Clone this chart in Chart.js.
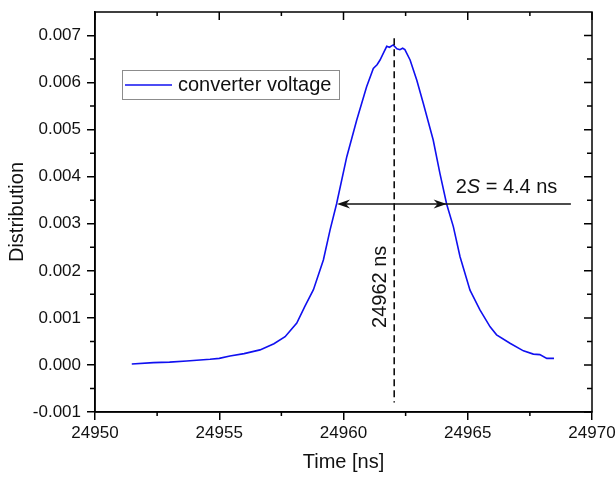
<!DOCTYPE html>
<html>
<head>
<meta charset="utf-8">
<script src="https://cdn.jsdelivr.net/npm/chart.js@4.4.1/dist/chart.umd.min.js"></script>
<style>
  html, body { margin: 0; padding: 0; background: #fff; }
  #wrap { width: 616px; height: 477px; }
</style>
</head>
<body>
<div id="wrap"><canvas id="c" width="616" height="477"></canvas></div>
<script>
// ---- data ----
const timeNs = [
  24951.48, 24952.35, 24953.0, 24953.69, 24954.63, 24955.0, 24955.43, 24956.0,
  24956.64, 24957.2, 24957.65, 24958.12, 24958.45, 24958.79, 24959.19, 24959.46,
  24959.72, 24960.13, 24960.53, 24960.93, 24961.2, 24961.35, 24961.47, 24961.6,
  24961.74, 24961.85, 24962.0, 24962.15, 24962.27, 24962.38, 24962.47, 24962.68,
  24962.95, 24963.21, 24963.61, 24963.88, 24964.15, 24964.42, 24964.69, 24965.09,
  24965.49, 24965.9, 24966.16, 24966.7, 24967.24, 24967.64, 24967.9, 24968.18, 24968.47
];
const distribution = [
  0.00002, 0.00005, 0.00006, 0.000085, 0.00012, 0.00014, 0.00019, 0.00024,
  0.00032, 0.00045, 0.0006, 0.00089, 0.00125, 0.0016, 0.00223, 0.00287,
  0.00342, 0.00442, 0.0052, 0.00591, 0.0063, 0.00638, 0.00648, 0.00662,
  0.00677, 0.00675, 0.0068, 0.00672, 0.0067, 0.00673, 0.0067, 0.00648,
  0.00605, 0.00556, 0.00478, 0.00407, 0.00342, 0.00294, 0.0023, 0.00159,
  0.00117, 0.00081, 0.00064, 0.00046, 0.0003, 0.00023, 0.00022, 0.00014, 0.00014
];
const seriesLabel = 'converter voltage';
const xTickValues = [24950, 24955, 24960, 24965, 24970];
const xTickLabels = ['24950', '24955', '24960', '24965', '24970'];
const xMinorValues = [24952.5, 24957.5, 24962.5, 24967.5];
const yTickValues = [-0.001, 0, 0.001, 0.002, 0.003, 0.004, 0.005, 0.006, 0.007];
const yTickLabels = ['-0.001', '0.000', '0.001', '0.002', '0.003', '0.004', '0.005', '0.006', '0.007'];
const yMinorValues = [-0.0005, 0.0005, 0.0015, 0.0025, 0.0035, 0.0045, 0.0055, 0.0065];
const xRange = [24950, 24970];
const yRange = [-0.001, 0.0075];
// annotations
const peakTime = [24962.04];          // dashed line position
const peakLineY = [-0.0008, 0.00694]; // dashed line extent
const peakLabel = ['24962 ns'];
const peakLabelY = [0.00166];
const fwhmY = [0.00342];
const fwhmX = [24959.74, 24964.15, 24969.15]; // left, right, line end
const fwhmLabel = ['2', 'S', ' = 4.4 ns'];

const FONT = '"Liberation Sans", Arial, sans-serif';

const annotPlugin = {
  id: 'annot',
  afterDraw(chart) {
    const ctx = chart.ctx;
    const xs = chart.scales.x, ys = chart.scales.y;
    const a = chart.chartArea;
    ctx.save();
    // frame
    ctx.strokeStyle = '#000';
    ctx.lineWidth = 1.5;
    ctx.strokeRect(a.left, a.top, a.right - a.left, a.bottom - a.top);
    // top/right inward major ticks
    ctx.beginPath();
    xTickValues.forEach(v => {
      const px = xs.getPixelForValue(v);
      ctx.moveTo(px, a.top); ctx.lineTo(px, a.top + 8);
    });
    yTickValues.forEach(v => {
      const py = ys.getPixelForValue(v);
      ctx.moveTo(a.right, py); ctx.lineTo(a.right - 8, py);
    });
    // minor ticks
    xMinorValues.forEach(v => {
      const px = xs.getPixelForValue(v);
      ctx.moveTo(px, a.bottom); ctx.lineTo(px, a.bottom + 4);
      ctx.moveTo(px, a.top); ctx.lineTo(px, a.top + 4);
    });
    yMinorValues.forEach(v => {
      const py = ys.getPixelForValue(v);
      ctx.moveTo(a.left, py); ctx.lineTo(a.left - 5, py);
      ctx.moveTo(a.right, py); ctx.lineTo(a.right - 5, py);
    });
    ctx.stroke();

    // legend
    const lx = a.left + 27, ly = a.top + 58, lw = 217, lh = 29;
    ctx.lineWidth = 1;
    ctx.strokeStyle = '#8c8c8c';
    ctx.strokeRect(lx + 0.5, ly + 0.5, lw, lh);
    const ds = chart.data.datasets[0];
    ctx.strokeStyle = ds.borderColor;
    ctx.lineWidth = 1.5;
    ctx.beginPath();
    ctx.moveTo(lx + 3, ly + lh / 2 + 0.5); ctx.lineTo(lx + 50, ly + lh / 2 + 0.5);
    ctx.stroke();
    ctx.fillStyle = '#111';
    ctx.font = '20px ' + FONT;
    ctx.textBaseline = 'middle';
    ctx.textAlign = 'left';
    ctx.fillText(ds.label, lx + 56, ly + lh / 2 + 1);

    // dashed peak line
    const pkx = xs.getPixelForValue(peakTime[0]);
    ctx.strokeStyle = '#000';
    ctx.lineWidth = 1.5;
    ctx.setLineDash([7, 4]);
    ctx.beginPath();
    ctx.moveTo(pkx, ys.getPixelForValue(peakLineY[1]));
    ctx.lineTo(pkx, ys.getPixelForValue(peakLineY[0]));
    ctx.stroke();
    ctx.setLineDash([]);
    // peak label rotated
    ctx.save();
    ctx.translate(pkx - 14, ys.getPixelForValue(peakLabelY[0]));
    ctx.rotate(-Math.PI / 2);
    ctx.textAlign = 'center';
    ctx.textBaseline = 'middle';
    ctx.fillStyle = '#111';
    ctx.font = '20px ' + FONT;
    ctx.fillText(peakLabel[0], 0, 0);
    ctx.restore();

    // FWHM arrow
    const fy = ys.getPixelForValue(fwhmY[0]);
    const fl = xs.getPixelForValue(fwhmX[0]);
    const fr = xs.getPixelForValue(fwhmX[1]);
    const fe = xs.getPixelForValue(fwhmX[2]);
    ctx.strokeStyle = '#111';
    ctx.lineWidth = 1.6;
    ctx.beginPath();
    ctx.moveTo(fl + 4, fy); ctx.lineTo(fe, fy);
    ctx.stroke();
    function head(tipX, dir) {
      ctx.fillStyle = '#111';
      ctx.beginPath();
      ctx.moveTo(tipX, fy);
      ctx.lineTo(tipX - dir * 13, fy - 4.5);
      ctx.lineTo(tipX - dir * 9, fy);
      ctx.lineTo(tipX - dir * 13, fy + 4.5);
      ctx.closePath();
      ctx.fill();
    }
    head(fl, -1);
    head(fr, 1);
    // FWHM label
    ctx.fillStyle = '#111';
    ctx.textAlign = 'left';
    ctx.textBaseline = 'alphabetic';
    let tx = fr + 9;
    const by = fy - 11;
    ctx.font = '20px ' + FONT;
    ctx.fillText(fwhmLabel[0], tx, by);
    tx += ctx.measureText(fwhmLabel[0]).width;
    ctx.font = 'italic 20px ' + FONT;
    ctx.fillText(fwhmLabel[1], tx, by);
    tx += ctx.measureText(fwhmLabel[1]).width;
    ctx.font = '20px ' + FONT;
    ctx.fillText(fwhmLabel[2], tx, by);
    ctx.restore();
  }
};

new Chart(document.getElementById('c'), {
  type: 'scatter',
  data: {
    datasets: [{
      label: seriesLabel,
      data: timeNs.map((t, i) => ({ x: t, y: distribution[i] })),
      showLine: true,
      borderColor: '#1010f0',
      borderWidth: 1.6,
      pointRadius: 0,
      tension: 0,
      fill: false
    }]
  },
  options: {
    responsive: false,
    animation: false,
    devicePixelRatio: 1,
    layout: { padding: { left: 0, top: 12, right: 24, bottom: 0 } },
    plugins: { legend: { display: false }, tooltip: { enabled: false } },
    scales: {
      x: {
        type: 'linear',
        min: xRange[0], max: xRange[1],
        afterBuildTicks: s => { s.ticks = xTickValues.map(v => ({ value: v })); },
        afterFit: s => { s.height = 65; s.paddingLeft = 0; s.paddingRight = 0; },
        ticks: {
          callback: (v, i) => xTickLabels[i],
          color: '#111',
          font: { family: FONT, size: 17 },
          padding: 3,
          maxRotation: 0,
          autoSkip: false
        },
        grid: { display: true, drawOnChartArea: false, drawTicks: true, tickLength: 8, color: '#000', lineWidth: 1.5 },
        border: { display: true, color: '#000', width: 1.5 },
        title: { display: true, text: 'Time [ns]', color: '#111', font: { family: FONT, size: 20 }, padding: { top: 0, bottom: 3 } }
      },
      y: {
        type: 'linear',
        min: yRange[0], max: yRange[1],
        afterBuildTicks: s => { s.ticks = yTickValues.map(v => ({ value: v })); },
        afterFit: s => { s.width = 95; s.paddingTop = 0; s.paddingBottom = 0; },
        ticks: {
          callback: (v, i) => yTickLabels[i],
          color: '#111',
          font: { family: FONT, size: 17 },
          padding: 6,
          autoSkip: false
        },
        grid: { display: true, drawOnChartArea: false, drawTicks: true, tickLength: 8, color: '#000', lineWidth: 1.5 },
        border: { display: true, color: '#000', width: 1.5 },
        title: { display: true, text: 'Distribution', color: '#111', font: { family: FONT, size: 20 }, padding: { top: 5, bottom: 0 } }
      }
    }
  },
  plugins: [annotPlugin]
});
</script>
</body>
</html>
